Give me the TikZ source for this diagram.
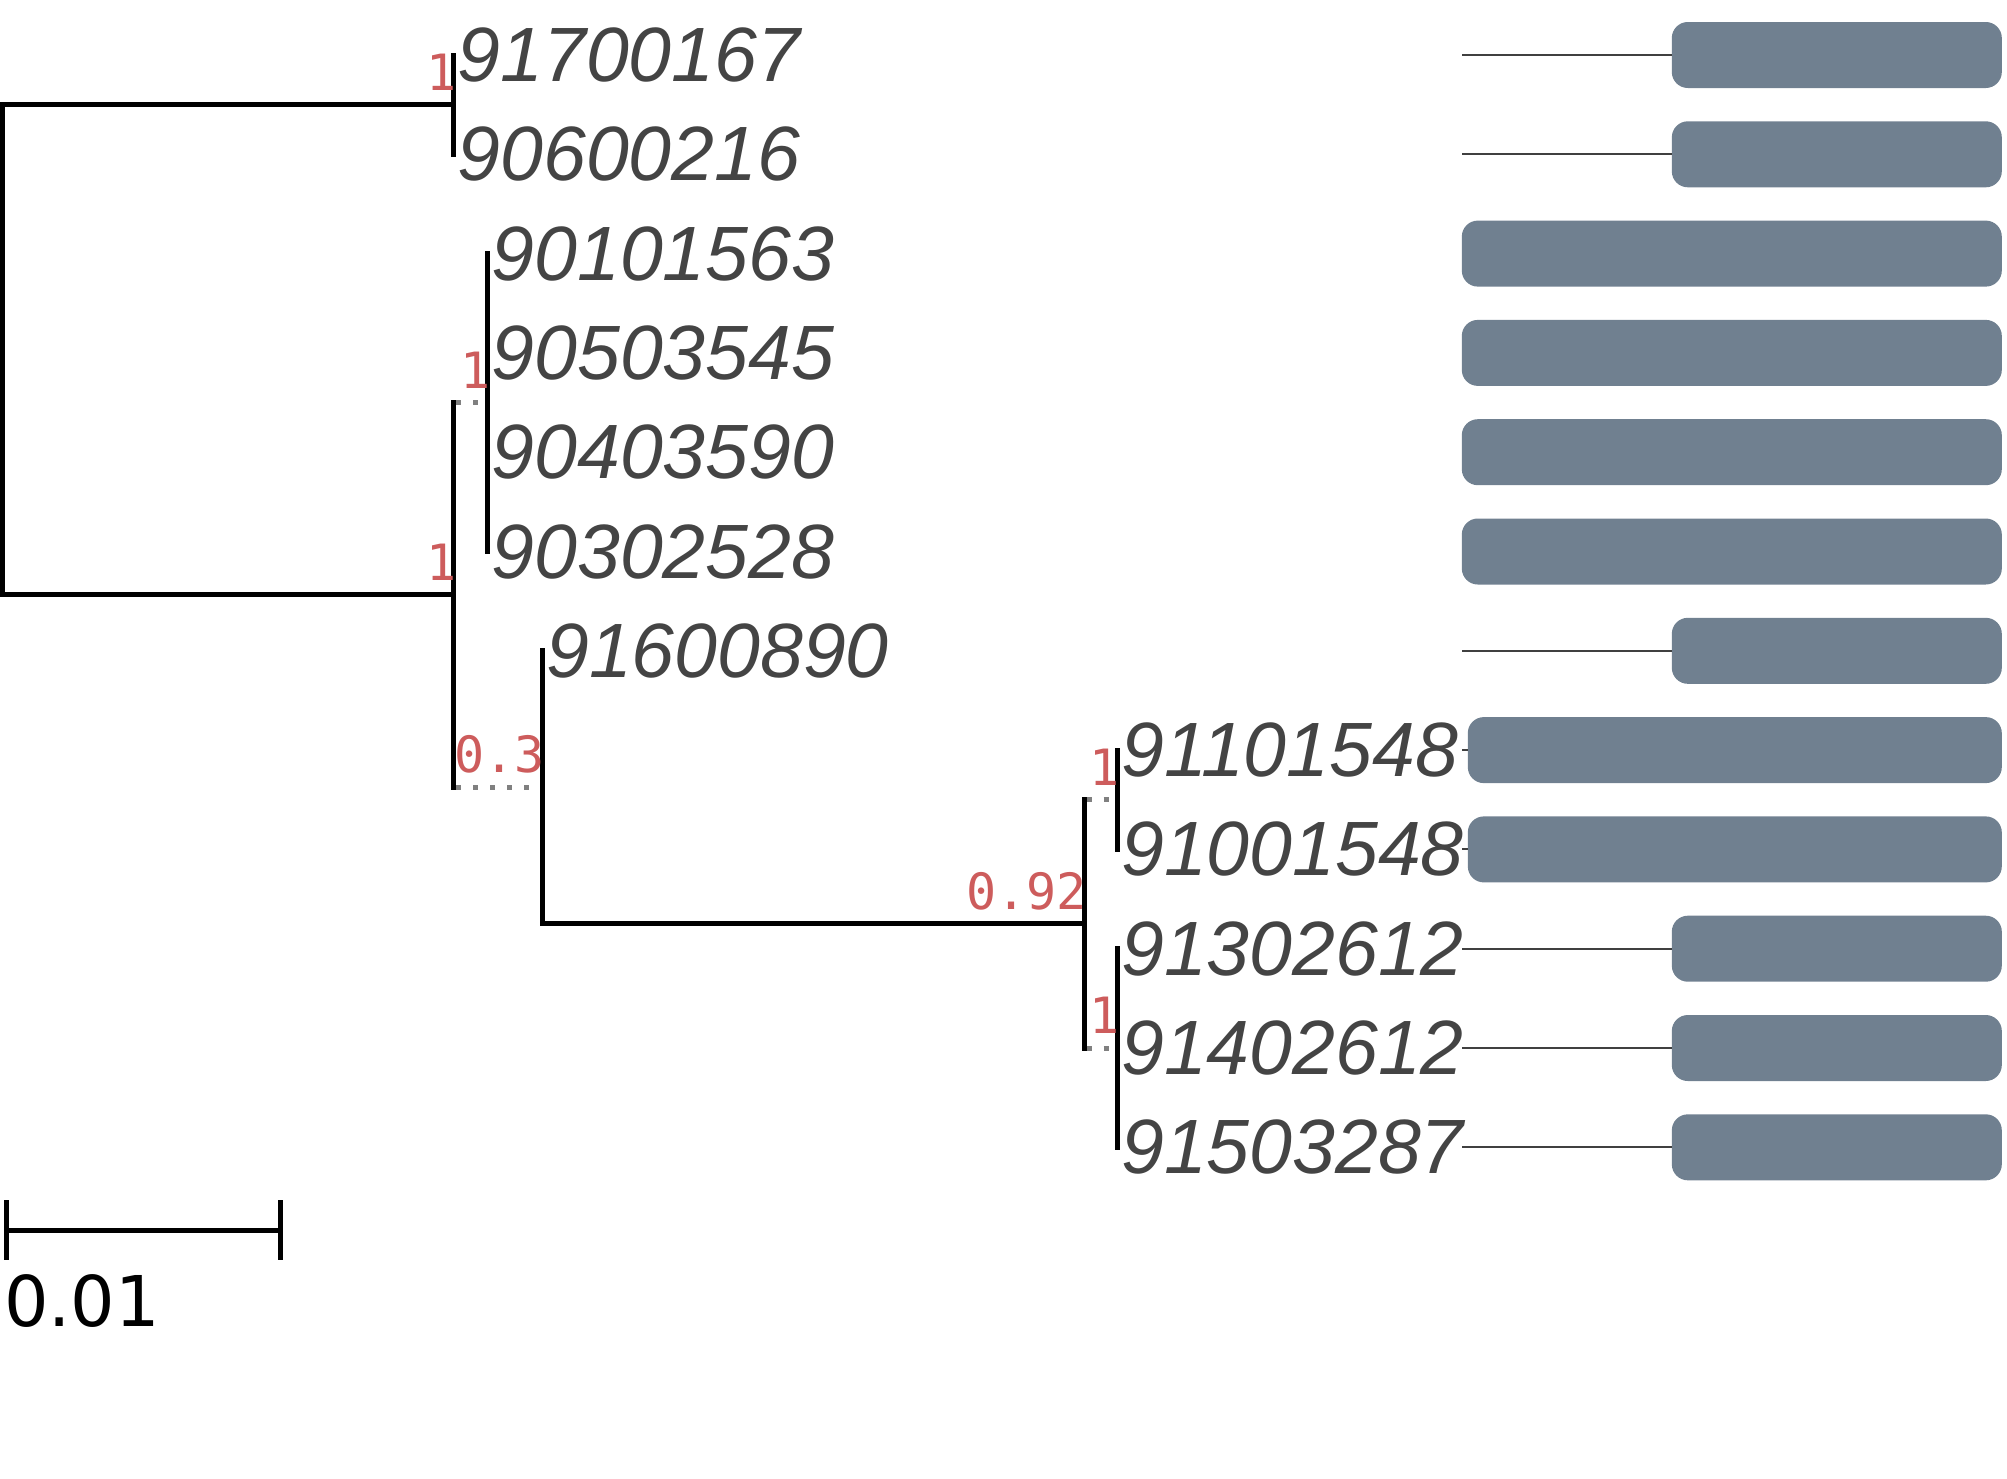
\documentclass[tikz,border=0pt]{standalone}
\usepackage{fontspec}
\setmainfont{Liberation Sans}
\newfontfamily\suppfont{DejaVu Sans Mono}
\newfontfamily\barfont{DejaVu Sans}
\definecolor{leafgray}{RGB}{68,68,68}
\definecolor{suppred}{RGB}{205,92,92}
\definecolor{facegray}{RGB}{112,128,144}
\tikzset{
  branch/.style={line width=5pt,line cap=rect},
  hidden/.style={line width=5pt,gray,dash pattern=on 5pt off 12pt,dash phase=14.5pt},
  leaf/.style={anchor=west,inner sep=0pt,text=leafgray,font=\fontsize{77pt}{77pt}\selectfont\itshape},
  support/.style={anchor=south east,inner sep=0pt,xshift=3pt,yshift=14pt,text=suppred,font=\suppfont\fontsize{50pt}{50pt}\selectfont},
  face/.style={fill=facegray,rounded corners=16pt,minimum height=66pt,inner sep=0pt,anchor=east},
  guide/.style={line width=2pt,black!75},
}
\begin{document}
\begin{tikzpicture}[x=1pt,y=-1pt]
        \useasboundingbox (0,0) rectangle (2007,1478);
        % leaves, faces
        \foreach \i/\x/\lab/\w in {0/453.5/91700167/330, 1/453.5/90600216/330,
            2/487.5/90101563/540, 3/487.5/90503545/540, 4/487.5/90403590/540,
            5/487.5/90302528/540, 6/542/91600890/330, 7/1117/91101548/534,
            8/1117/91001548/534, 9/1117/91302612/330, 10/1117/91402612/330,
            11/1117/91503287/330}{
          \pgfmathsetmacro\y{55+99.3*\i}
          \coordinate (l\i) at (\x,\y);
          \node[leaf] (t\i) at (\x+4,\y) {\lab};
          \node[face,minimum width=\w pt] (f\i) at (2002,\y) {};
          \coordinate (g\i) at (1462,\y);
          \ifnum\w<540 \draw[guide] (g\i) -- (f\i.west);\fi
        }
        % inner nodes
        \coordinate (nA) at (453.5,104.65);
        \coordinate (nC) at (487.5,402.55);
        \coordinate (nF) at (1117,799.75);
        \coordinate (nG) at (1117,1048);
        \coordinate (nE) at (1084,923.9);
        \coordinate (nD) at (542,787.35);
        \coordinate (nB) at (453.5,594.95);
        \coordinate (root) at (2.5,350);
        % branches
        \draw[branch] (root |- nA) -- (root |- nB);
        \draw[branch] (root |- nA) -- (nA);
        \draw[branch] (root |- nB) -- (nB);
        \draw[branch] (l0) -- (l1);
        \draw[branch] (nB |- nC) -- (nB |- nD);
        \draw[hidden] (nB |- nC) -- (nC);
        \draw[hidden] (nB |- nD) -- (nD);
        \draw[branch] (l2) -- (l5);
        \draw[branch] (l6) -- (l6 |- nE) -- (nE);
        \draw[branch] (nE |- nF) -- (nE |- nG);
        \draw[hidden] (nE |- nF) -- (nF);
        \draw[hidden] (nE |- nG) -- (nG);
        \draw[branch] (l7) -- (l8);
        \draw[branch] (l9) -- (l11);
        % support values
        \node[support] (sA) at (nA) {1};
        \node[support] (sB) at (nB) {1};
        \node[support] (sC) at (nC) {1};
        \node[support] (sD) at (nD) {0.3};
        \node[support] (sE) at (nE) {0.92};
        \node[support] (sF) at (nF) {1};
        \node[support] (sG) at (nG) {1};
        % scale bar
        \coordinate (sb0) at (6,1230);
        \coordinate (sb1) at (280,1230);
        \draw[line width=5pt] (sb0) -- (sb1);
        \draw[line width=5pt] ([yshift=30pt]sb0) -- ([yshift=-30pt]sb0);
        \draw[line width=5pt] ([yshift=30pt]sb1) -- ([yshift=-30pt]sb1);
        \node[anchor=north west,inner sep=0pt,font=\barfont\fontsize{70pt}{70pt}\selectfont] (sbl) at (4,1274) {0.01};
\end{tikzpicture}
\end{document}
